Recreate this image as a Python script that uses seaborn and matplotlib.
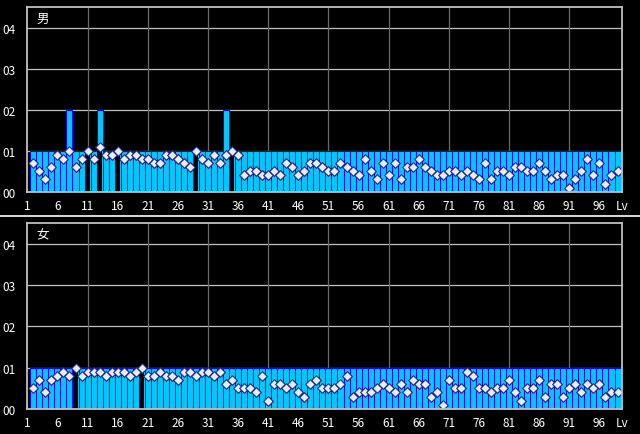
import matplotlib
matplotlib.use("Agg")
import matplotlib.pyplot as plt
import seaborn as sns
import numpy as np
from matplotlib.lines import Line2D

# ---------------- data ----------------
levels = list(range(1, 99))

male_bars = [1, 1, 1, 1, 1, 1, 2, 1, 1, 1,
             1, 2, 1, 1, 1, 1, 1, 1, 1, 1,
             1, 1, 1, 1, 1, 1, 1, 1, 1, 1,
             1, 1, 2, 1, 1, 1, 1, 1, 1, 1] + [1] * 58
male_dark = [0, 0, 0, 0, 0, 0, 0, 0, 0, 1,
             0, 1, 0, 0, 1, 0, 0, 0, 0, 0,
             0, 0, 0, 0, 0, 0, 0, 1, 0, 0,
             0, 0, 0, 1, 0, 0, 0, 0, 0, 0] + [0] * 58
male_pts = [0.7, 0.5, 0.3, 0.6, 0.9, 0.8, 1.0, 0.6, 0.8, 1.0,
            0.8, 1.1, 0.9, 0.9, 1.0, 0.8, 0.9, 0.9, 0.8, 0.8,
            0.7, 0.7, 0.9, 0.9, 0.8, 0.7, 0.6, 1.0, 0.8, 0.7,
            0.9, 0.7, 0.9, 1.0, 0.9, 0.4, 0.5, 0.5, 0.4, 0.4,
            0.5, 0.4, 0.7, 0.6, 0.4, 0.5, 0.7, 0.7, 0.6, 0.5,
            0.5, 0.7, 0.6, 0.5, 0.4, 0.8, 0.5, 0.3, 0.7, 0.4,
            0.7, 0.3, 0.6, 0.6, 0.8, 0.6, 0.5, 0.4, 0.4, 0.5,
            0.5, 0.4, 0.5, 0.4, 0.3, 0.7, 0.3, 0.5, 0.5, 0.4,
            0.6, 0.6, 0.5, 0.5, 0.7, 0.5, 0.3, 0.4, 0.4, 0.1,
            0.3, 0.5, 0.8, 0.4, 0.7, 0.2, 0.4, 0.5]

female_bars = [1] * 98
female_dark = [0, 0, 0, 0, 0, 0, 0, 1, 0, 0,
               0, 0, 0, 0, 0, 0, 0, 0, 1, 0] + [0] * 78
female_pts = [0.5, 0.7, 0.4, 0.7, 0.8, 0.9, 0.8, 1.0, 0.8, 0.9,
              0.9, 0.9, 0.8, 0.9, 0.9, 0.9, 0.8, 0.9, 1.0, 0.8,
              0.8, 0.9, 0.8, 0.8, 0.7, 0.9, 0.9, 0.8, 0.9, 0.9,
              0.8, 0.9, 0.6, 0.7, 0.5, 0.5, 0.5, 0.4, 0.8, 0.2,
              0.6, 0.6, 0.5, 0.6, 0.4, 0.3, 0.6, 0.7, 0.5, 0.5,
              0.5, 0.6, 0.8, 0.3, 0.4, 0.4, 0.4, 0.5, 0.6, 0.5,
              0.4, 0.6, 0.4, 0.7, 0.6, 0.6, 0.3, 0.4, 0.1, 0.7,
              0.5, 0.5, 0.9, 0.8, 0.5, 0.5, 0.4, 0.5, 0.5, 0.7,
              0.4, 0.2, 0.5, 0.5, 0.7, 0.3, 0.6, 0.6, 0.3, 0.5,
              0.6, 0.4, 0.6, 0.5, 0.6, 0.3, 0.4, 0.4]

panel_titles = ["男", "女"]
x_tick_labels = ["1", "6", "11", "16", "21", "26", "31", "36", "41", "46",
                 "51", "56", "61", "66", "71", "76", "81", "86", "91", "96"]
y_tick_labels = ["00", "01", "02", "03", "04"]

# ---------------- style ----------------
sns.set_style("dark")
plt.rcParams["font.family"] = ["Noto Sans CJK JP", "DejaVu Sans"]

BAR = "#08c4ff"
EDGE = "#0010f0"
FRAME = "#c0c0c0"

fig = plt.figure(figsize=(6.4, 4.35), dpi=100, facecolor="black")
ax_top = fig.add_axes([0.0427, 0.557, 0.9297, 0.424])
ax_bot = fig.add_axes([0.0427, 0.0575, 0.9297, 0.427])

panels = [(ax_top, male_bars, male_dark, male_pts),
          (ax_bot, female_bars, female_dark, female_pts)]

for (ax, bars, dark, pts), title in zip(panels, panel_titles):
    ax.set_facecolor("black")
    ax.set_axisbelow(True)
    ax.grid(False)
    for yv in [1, 2, 3, 4]:
        ax.axhline(yv, color=FRAME, lw=0.9, zorder=0)
    for xv in range(10, 91, 10):
        ax.axvline(xv, color="#6a6a6a", lw=0.9, zorder=0)

    sns.barplot(x=levels, y=bars, native_scale=True, width=1.0, color=BAR,
                saturation=1, edgecolor=EDGE, linewidth=0.75, errorbar=None,
                ax=ax, zorder=2)
    sns.barplot(x=levels, y=dark, native_scale=True, width=0.8, color="black",
                saturation=1, linewidth=0, errorbar=None, ax=ax, zorder=3)
    sns.scatterplot(x=levels, y=pts, marker="D", s=24, color="#e6ecff",
                    edgecolor="#1a237a", linewidth=0.8, zorder=5, ax=ax,
                    legend=False)

    ax.set_xlim(0, 98.8)
    ax.set_ylim(0, 4.5)
    ticks = [i * 5 for i in range(20)] + [98.8]
    ax.set_xticks(ticks)
    ax.set_xticklabels(x_tick_labels + ["Lv"])
    ax.set_yticks([0, 1, 2, 3, 4])
    ax.set_yticklabels(y_tick_labels)
    ax.tick_params(axis="x", direction="in", length=3, width=0.8,
                   color=FRAME, labelcolor="white", labelsize=8.5, pad=5,
                   bottom=True)
    ax.tick_params(axis="y", length=0, labelcolor="white", labelsize=8.5,
                   pad=8.5, left=True)
    ax.set_xlabel("")
    ax.set_ylabel("")
    for side, sp in ax.spines.items():
        sp.set_visible(True)
        sp.set_color(FRAME)
        sp.set_linewidth(1.3)
        sp.set_zorder(6)
    ax.text(0.0146, 0.972, title, transform=ax.transAxes, color="white",
            fontsize=9, ha="left", va="top", zorder=7)

fig.add_artist(Line2D([0, 1], [0.5011, 0.5011], transform=fig.transFigure,
                      color="white", lw=1.2))

fig.savefig("out.png", dpi=100, facecolor="black")
